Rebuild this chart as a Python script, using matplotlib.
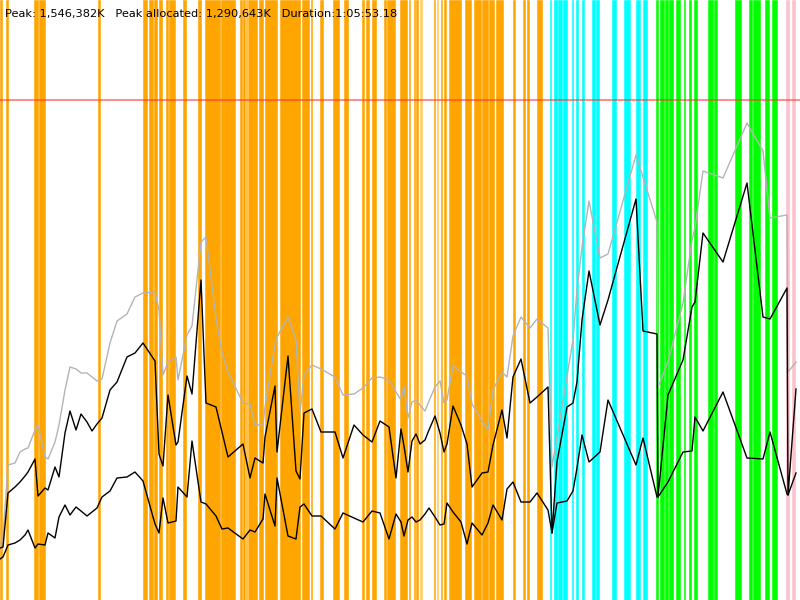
#!/usr/bin/env python3
# -*- coding: utf-8 -*-
"""
Heap timeline: peak / used / allocated memory over a run, with GC / phase
events shown as vertical bands behind the curves.
"""
import matplotlib
matplotlib.use("Agg")
import matplotlib.pyplot as plt

# sample times (timeline units, 0..800)
t = [0, 3, 8, 15, 20, 25, 28, 35, 38, 45, 48, 55, 59, 65, 70, 76, 81, 87, 92, 97,
     102, 110, 117, 127, 135,
     143, 155, 159, 163, 168, 176, 178, 187, 192, 201,
     206, 216, 222, 228, 243, 250, 255, 263, 265, 275,
     277, 288, 296, 300, 304, 312, 321, 335, 343, 354,
     363, 372, 380, 389, 396, 401, 404, 408, 412, 416,
     420, 425, 429, 435, 440, 444, 447, 453, 461, 467,
     472, 482, 488, 493, 502, 507, 513, 521, 530, 537,
     548, 552, 557, 567, 573, 577, 582, 589, 600, 608,
     636, 643, 657, 658, 668, 683, 692, 695, 703, 723,
     747, 763, 770, 787, 788, 796]

# heap size (grey), used (black upper), allocated (black lower)
heap = [55, 63, 135, 137, 148, 151, 152, 170, 175, 143, 141, 158, 175, 210, 233,
        231, 227, 227, 223, 219, 221, 257, 279, 286, 303,
        307, 308, 290, 225, 238, 243, 220, 265, 274, 358,
        363, 282, 248, 228, 197, 196, 175, 175, 193, 256,
        263, 283, 260, 187, 225, 235, 231, 223, 205, 206,
        212, 222, 223, 220, 208, 200, 214, 182, 198, 200,
        195, 189, 199, 213, 219, 197, 200, 234, 228, 224,
        196, 179, 170, 210, 228, 223, 264, 283, 272, 281,
        272, 133, 163, 224, 260, 310, 353, 399, 342, 346,
        445, 423, 378, 213, 238, 297, 360, 372, 429, 422,
        477, 449, 382, 385, 228, 238]

used = [52, 53, 107, 113, 118, 124, 128, 141, 104, 112, 110, 133, 123, 167, 189,
        170, 186, 178, 169, 176, 182, 210, 218, 243, 247,
        257, 239, 146, 134, 205, 155, 158, 224, 206, 320,
        197, 193, 168, 143, 156, 122, 142, 137, 163, 214,
        148, 244, 129, 121, 187, 191, 168, 168, 142, 175,
        165, 158, 179, 173, 122, 171, 154, 128, 159, 166,
        156, 160, 170, 184, 167, 148, 156, 194, 175, 156,
        113, 127, 128, 155, 190, 162, 223, 241, 197, 203,
        213, 67, 138, 193, 197, 218, 280, 329, 275, 300,
        401, 269, 266, 103, 205, 240, 293, 298, 367, 338,
        417, 283, 281, 312, 105, 211]

alloc = [41, 43, 55, 57, 60, 65, 70, 52, 56, 55, 67, 62, 83, 95, 85, 93, 89, 84,
         88, 92, 103, 109, 122, 123, 128,
         119, 76, 67, 102, 77, 79, 113, 103, 159, 98,
         96, 84, 71, 72, 61, 70, 68, 81, 106, 74,
         122, 64, 61, 93, 96, 84, 84, 71, 87, 82,
         78, 89, 87, 61, 86, 78, 64, 80, 83, 78,
         80, 86, 92, 83, 75, 76, 97, 88, 78, 56,
         77, 65, 77, 95, 80, 111, 118, 98, 98, 107,
         90, 67, 97, 99, 109, 132, 165, 138, 148, 200,
         135, 162, 103, 103, 118, 148, 149, 183, 169, 208,
         142, 141, 168, 106, 105, 127]

LIMIT = 500  # max heap line

# event bands (start, end) per kind
orange_ev = [(0, 2), (6, 8), (34, 38), (39, 45), (98, 100), (143, 147), (149, 153),
             (154, 157), (159, 162), (166, 168), (169, 175), (183, 186), (198, 201),
             (205, 219.5), (221, 234.5), (240, 242), (243, 257), (259, 263),
             (265, 277), (280, 300), (302, 309), (311, 312), (320, 323), (333, 339),
             (344, 348), (362, 364), (366, 369), (372, 376), (384, 386), (387, 395),
             (400, 407), (409, 410), (414, 415), (416, 418), (434, 435), (440.7, 442),
             (444, 446), (449, 461), (465, 471), (474, 481), (482, 488), (489, 494),
             (496, 502.5), (513, 515), (523, 525), (527, 529), (537, 542)]
orange_faint = [(420, 422.5), (437, 438.5), (245, 249)]
cyan_ev = [(550, 551), (554, 557), (558, 562), (563, 567), (572, 573), (576, 578),
           (582, 584), (592, 595), (596, 599), (612, 616), (624, 630), (636, 640),
           (643, 647)]
green_ev = [(656, 658), (660, 664), (665, 668), (669, 673), (676, 680), (684, 685),
            (689, 691), (694, 697), (708, 713), (714, 717), (735, 741), (749, 752),
            (753, 760), (765, 769), (772, 777)]
pink_ev = [(786, 789), (792, 795)]

TITLE = "Peak: 1,546,382K   Peak allocated: 1,290,643K   Duration:1:05:53.18"

fig = plt.figure(figsize=(8, 6), dpi=100)
ax = fig.add_axes([0, 0, 1, 1])
ax.set_xlim(0, 800)
ax.set_ylim(0, 600)
ax.axis("off")

for evs, col in ((orange_ev, "#ffa500"), (cyan_ev, "#00ffff"),
                 (green_ev, "#00ff00"), (pink_ev, "#ffc0cb")):
    for a, b in evs:
        ax.axvspan(a, b, facecolor=col, edgecolor=col, lw=0.4, zorder=1)
for a, b in orange_faint:
    ax.axvspan(a, b, facecolor="#ffc860", edgecolor="none", zorder=1.5, alpha=0.8)

ax.axhline(LIMIT, color="#ff3030", alpha=0.7, lw=1.1, zorder=2)
ax.plot(t, heap, color="#b4b4b4", lw=1.0, zorder=3)
ax.plot(t, used, color="black", lw=1.0, zorder=4)
ax.plot(t, alloc, color="black", lw=1.0, zorder=4)

fig.text(5 / 800, 1 - 17 / 600, TITLE, fontsize=8.2, va="baseline", ha="left")

fig.savefig("out.png", dpi=100)
plt.close(fig)
